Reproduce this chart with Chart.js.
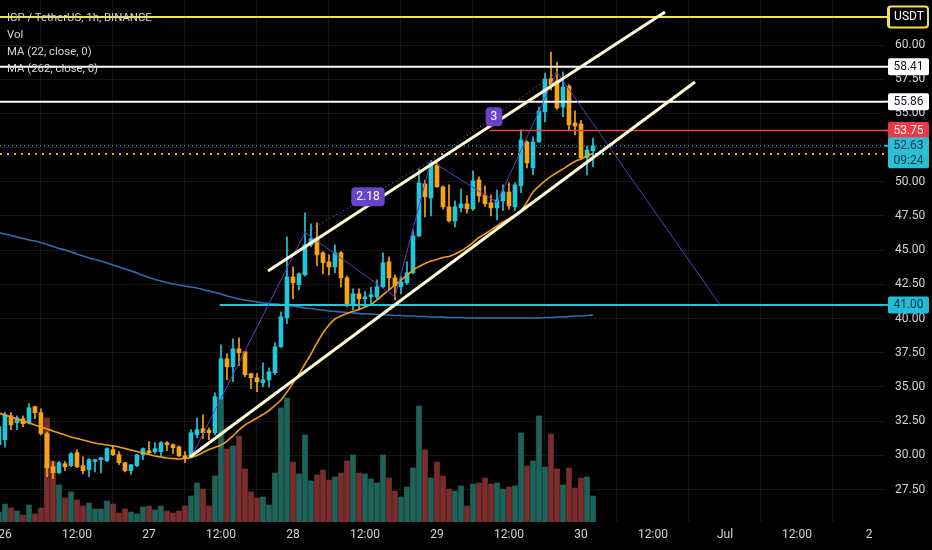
<!DOCTYPE html>
<html><head><meta charset="utf-8">
<script src="https://cdn.jsdelivr.net/npm/chart.js@4.4.1/dist/chart.umd.min.js"></script>
<style>
html,body{margin:0;padding:0;background:#000;}
#wrap{position:relative;width:932px;height:550px;background:#000;}
#legend{position:absolute;left:7px;top:9px;font:11.4px Roboto,sans-serif;color:#d1d4dc;line-height:17px;pointer-events:none;}
</style></head><body>
<div id="wrap"><canvas id="c" width="932" height="550"></canvas>
<div id="legend"><div>ICP / TetherUS, 1h, BINANCE</div><div>Vol</div><div>MA (22, close, 0)</div><div>MA (262, close, 0)</div></div>
</div>
<script>
// hours since 26 Jun 00:00 (1h candles)
const hours = [-1,0,1,2,3,4,5,6,7,8,9,10,11,12,13,14,15,16,17,18,19,20,21,22,23,24,25,26,27,28,29,30,31,32,33,34,35,36,37,38,39,40,41,42,43,44,45,46,47,48,49,50,51,52,53,54,55,56,57,58,59,60,61,62,63,64,65,66,67,68,69,70,71,72,73,74,75,76,77,78,79,80,81,82,83,84,85,86,87,88,89,90,91,92,93,94,95,96,97,98];
const openP = [30.78,31.15,32.90,32.39,32.68,32.39,33.56,33.12,31.59,29.17,28.74,29.39,29.25,30.20,29.25,28.96,29.56,29.69,29.61,30.42,30.05,29.47,28.88,29.25,30.05,30.34,30.27,30.27,30.93,30.78,30.63,29.98,29.90,31.51,31.95,31.84,31.66,34.14,37.06,36.48,37.79,37.57,35.97,35.68,35.31,35.53,36.04,37.94,40.06,43.05,42.47,43.20,45.39,45.90,44.81,44.15,43.78,44.81,42.98,41.08,41.81,41.45,41.59,41.59,42.32,44.15,42.98,42.32,42.61,43.35,46.05,49.85,48.82,51.23,49.63,48.17,47.14,48.09,48.39,48.02,50.14,49.04,48.46,48.09,48.60,49.26,48.17,49.70,52.91,51.02,52.91,55.11,57.52,57.37,55.47,57.00,54.30,54.23,51.75,52.26];
const highP = [32.30,33.17,33.12,32.90,32.90,33.78,33.60,33.40,31.70,29.54,29.54,29.54,30.20,30.40,29.90,29.76,29.72,29.85,30.56,30.71,30.27,29.50,29.32,30.05,30.56,31.00,30.93,31.00,31.00,30.85,30.70,30.27,31.88,32.75,32.97,32.00,34.58,38.09,37.43,38.52,38.60,37.60,36.00,36.00,36.77,36.40,38.23,40.50,45.97,43.78,43.35,47.73,46.92,47.00,44.90,44.66,45.39,44.90,43.10,42.18,42.18,42.00,42.30,42.83,44.80,44.51,43.20,43.05,44.15,46.49,50.94,50.10,51.53,51.38,49.70,49.77,48.60,49.48,49.00,50.80,50.36,49.70,49.04,49.40,49.77,49.92,49.92,53.79,53.00,53.28,55.47,57.95,59.49,58.76,58.03,57.10,55.18,54.50,52.62,53.20];
const lowP = [30.60,30.60,31.88,31.88,32.10,32.30,32.68,31.50,28.44,28.30,28.67,28.88,29.17,29.10,28.67,28.44,28.80,28.74,29.54,29.98,29.32,28.80,28.60,29.17,29.69,30.05,30.12,29.90,30.34,30.12,29.90,29.47,29.83,31.30,31.22,31.15,31.50,34.10,35.53,35.38,36.55,35.75,34.87,34.65,35.00,35.00,35.90,37.90,39.62,41.45,42.10,43.10,45.25,43.86,43.27,43.20,43.35,42.32,40.86,40.64,40.64,40.86,41.10,41.45,42.25,42.10,41.37,41.80,42.50,43.27,45.97,47.44,47.51,49.60,48.00,47.07,46.70,47.80,47.70,47.90,48.53,48.20,47.51,47.22,47.90,48.00,47.90,49.20,51.02,50.50,52.90,54.38,56.71,55.30,54.74,53.72,53.43,51.60,50.50,51.09];
const closeP = [32.10,32.97,32.24,32.75,32.32,33.48,33.12,31.59,29.10,28.74,29.47,29.17,30.12,29.17,28.88,29.69,29.69,29.83,30.49,30.05,29.47,28.88,29.32,30.05,30.49,30.20,30.49,30.93,30.78,30.56,29.98,29.83,31.66,31.88,31.66,31.66,34.29,37.06,36.48,37.79,37.50,35.90,35.68,35.38,35.53,36.11,37.94,40.13,43.05,42.61,43.27,45.39,45.83,44.66,44.08,43.78,44.81,42.98,41.08,41.81,41.45,41.59,41.74,42.32,44.08,42.98,42.40,42.69,43.35,46.05,49.92,48.90,51.38,49.63,48.17,47.14,48.17,48.39,48.02,50.07,48.97,48.39,48.09,48.68,49.26,48.24,49.77,53.06,51.38,52.91,55.18,57.52,57.08,55.40,56.93,54.16,54.08,51.75,52.33,52.63];
// volume (thousands, relative)
const volumeK = [10,18,14,11,7,17,8,14,104,61,37,24,30,22,16,19,13,13,21,18,9,13,10,8,15,16,12,16,11,9,11,16,26,39,33,16,46,123,73,76,86,53,30,24,25,17,49,114,124,60,48,87,41,47,52,42,45,49,61,67,49,48,43,39,67,44,31,25,35,54,116,72,44,60,46,33,31,36,16,38,39,44,38,39,33,35,36,89,56,61,106,55,88,53,37,54,34,44,45,26];
const ma22 = [33.10,32.95,32.81,32.66,32.51,32.37,32.22,32.08,31.93,31.78,31.64,31.49,31.35,31.24,31.13,31.02,30.91,30.83,30.76,30.69,30.61,30.50,30.39,30.29,30.18,30.07,29.96,29.88,29.81,29.77,29.74,29.77,29.85,29.99,30.21,30.43,30.58,30.76,31.05,31.42,31.86,32.22,32.48,32.73,32.99,33.28,33.65,34.05,34.63,35.29,35.95,36.68,37.41,38.22,38.95,39.53,39.97,40.19,40.37,40.52,40.67,40.85,41.03,41.36,41.73,42.09,42.46,42.82,43.15,43.55,43.81,44.03,44.21,44.32,44.47,44.54,44.72,44.94,45.23,45.56,45.93,46.18,46.48,46.77,47.06,47.32,47.57,47.90,48.52,49.25,49.69,50.06,50.39,50.68,50.94,51.23,51.48,51.67,51.89,52.07];
const ma262 = [46.26,46.18,46.07,45.96,45.86,45.75,45.67,45.56,45.42,45.27,45.13,45.02,44.87,44.72,44.58,44.43,44.32,44.21,44.06,43.92,43.77,43.63,43.48,43.33,43.15,43.00,42.86,42.75,42.64,42.53,42.46,42.38,42.31,42.24,42.13,42.02,41.91,41.80,41.65,41.54,41.43,41.36,41.29,41.21,41.14,41.10,41.07,41.03,40.96,40.92,40.85,40.77,40.74,40.67,40.63,40.56,40.52,40.48,40.45,40.41,40.37,40.34,40.34,40.30,40.26,40.26,40.23,40.23,40.19,40.19,40.15,40.15,40.12,40.12,40.12,40.08,40.08,40.08,40.04,40.04,40.04,40.04,40.04,40.04,40.04,40.04,40.04,40.04,40.04,40.04,40.04,40.08,40.08,40.12,40.12,40.15,40.19,40.19,40.23,40.26];
// tick labels
const xTickHours = [0,12,24,36,48,60,72,84,96,108,120,132,144];
const xTickLabels = ['26','12:00','27','12:00','28','12:00','29','12:00','30','12:00','Jul','12:00','2'];
const priceTicks = [27.5,30,32.5,35,37.5,40,42.5,45,47.5,50,52.5,55,57.5,60];
// drawings (hour, price)
const upperChannel = [[43.83,43.48],[110,62.41]];
const lowerChannel = [[30.83,29.88],[115,57.30]];
const zigzag = [[31,29.83],[50,46.3],[65,41.6],[71,51.52],[82,48.5],[92,58.0],[119.2,41.0]];
const ratioLine1 = [[50,46.3],[71,51.52]];
const ratioLine2 = [[71,51.52],[92,58.0]];
const yellowLevel = 62.05, whiteLevel1 = 58.41, whiteLevel2 = 55.86, redLevel = 53.75, cyanLevel = 41.00, lastPrice = 52.63, maLastLevel = 52.04;
const redStart = 80.8, cyanStart = 35.8;
const ratioLabels = [{h:60.5,p:48.91,text:'2.18'},{h:81.5,p:54.76,text:'3'}];
const countdown = '09:24';

const X_MIN = -0.83, X_MAX = 146.5;
const upC = '#26c6da', dnC = '#f7a21b';
const candleColors = hours.map((h,i)=> closeP[i] >= openP[i] ? upC : dnC);
const volColors = hours.map((h,i)=> closeP[i] >= openP[i] ? '#1f6259' : '#7a2d2d');

const pts = arr => arr.map(p => ({x:p[0], y:p[1]}));
const lineDs = (data, color, width, dash, order) => ({type:'line', data, borderColor:color, borderWidth:width, borderDash:dash||[], pointRadius:0, fill:false, tension:0, order, yAxisID:'y', xAxisID:'x'});

Chart.defaults.font.family = 'Roboto, sans-serif';

const overlay = {
  id:'overlay',
  afterDatasetsDraw(chart){
    const ctx = chart.ctx, x = chart.scales.x, y = chart.scales.y;
    ctx.save();
    ctx.font = '12px Roboto, sans-serif';
    ctx.textAlign = 'center'; ctx.textBaseline = 'middle';
    ratioLabels.forEach(m => {
      const px = x.getPixelForValue(m.h), py = y.getPixelForValue(m.p);
      const w = ctx.measureText(m.text).width + 10, h = 19;
      ctx.fillStyle = '#6a44c8';
      ctx.beginPath(); ctx.roundRect(px - w/2, py - h/2, w, h, 4); ctx.fill();
      ctx.fillStyle = '#ffffff';
      ctx.fillText(m.text, px, py + 0.5);
    });
    ctx.restore();
  },
  afterDraw(chart){
    const ctx = chart.ctx, y = chart.scales.y;
    const left = chart.chartArea.right + 4;
    ctx.save();
    ctx.font = '12px Roboto, sans-serif';
    ctx.textAlign = 'center'; ctx.textBaseline = 'middle';
    const uy = y.getPixelForValue(yellowLevel);
    ctx.fillStyle = '#f5e24a';
    ctx.fillRect(chart.chartArea.right, uy - 1, 5, 2);
    ctx.fillStyle = '#000';
    ctx.strokeStyle = '#f5e24a'; ctx.lineWidth = 2;
    ctx.beginPath(); ctx.roundRect(left, uy - 10.5, 40, 21, 3); ctx.fill(); ctx.stroke();
    ctx.fillStyle = '#f5e24a'; ctx.fillRect(left - 1, uy - 9, 3, 18);
    ctx.fillStyle = '#ffffff'; ctx.fillText('USDT', left + 21, uy + 0.5);
    const marks = [
      {p:whiteLevel1, bg:'#ffffff', fg:'#131722', t:[whiteLevel1.toFixed(2)]},
      {p:whiteLevel2, bg:'#ffffff', fg:'#131722', t:[whiteLevel2.toFixed(2)]},
      {p:redLevel, bg:'#f23645', fg:'#ffffff', t:[redLevel.toFixed(2)]},
      {p:lastPrice, bg:'#2bbfd4', fg:'#12304a', t:[lastPrice.toFixed(2), countdown]},
      {p:cyanLevel, bg:'#22bcd6', fg:'#12304a', t:[cyanLevel.toFixed(2)]}
    ];
    marks.forEach(m => {
      const py = y.getPixelForValue(m.p);
      const h = m.t.length === 1 ? 17 : 31;
      ctx.fillStyle = m.bg;
      ctx.beginPath(); ctx.roundRect(left, py - 8.5, 41, h, 2); ctx.fill();
      ctx.fillStyle = m.bg; ctx.fillRect(chart.chartArea.right, py - 1, 5, 2);
      ctx.fillStyle = m.fg;
      m.t.forEach((t, k) => ctx.fillText(t, left + 20.5, py + 0.5 + k*14.5));
    });
    ctx.restore();
  }
};

new Chart(document.getElementById('c'), {
  type:'bar',
  data:{datasets:[
    {type:'bar', label:'Vol', data: hours.map((h,i)=>({x:h, y:volumeK[i]})), backgroundColor: volColors, barThickness:5, grouped:false, yAxisID:'v', xAxisID:'x', order:20},
    Object.assign(lineDs(hours.map((h,i)=>({x:h, y:ma262[i]})), '#2f6db5', 1.6, [], 15), {tension:0.3}),
    {type:'bar', label:'wick', data: hours.map((h,i)=>({x:h, y:[lowP[i], highP[i]]})), backgroundColor: candleColors, barThickness:1, grouped:false, yAxisID:'y', xAxisID:'x', order:12},
    {type:'bar', label:'body', data: hours.map((h,i)=>({x:h, y:[openP[i], closeP[i]]})), backgroundColor: candleColors, barThickness:4, minBarLength:1, grouped:false, yAxisID:'y', xAxisID:'x', order:11},
    Object.assign(lineDs(hours.map((h,i)=>({x:h, y:ma22[i]})), '#f39c12', 1.6, [], 10), {tension:0.3}),
    lineDs(pts([[X_MIN,lastPrice],[X_MAX,lastPrice]]), '#26c6da', 1, [1,3], 9),
    lineDs(pts([[X_MIN,maLastLevel],[X_MAX,maLastLevel]]), '#f5a623', 2, [2,5], 9),
    lineDs(pts([[X_MIN,yellowLevel],[X_MAX,yellowLevel]]), '#f5e24a', 2, [], 8),
    lineDs(pts([[X_MIN,whiteLevel1],[X_MAX,whiteLevel1]]), '#ffffff', 2, [], 8),
    lineDs(pts([[X_MIN,whiteLevel2],[X_MAX,whiteLevel2]]), '#ffffff', 2, [], 8),
    lineDs(pts([[redStart,redLevel],[X_MAX,redLevel]]), '#e8433c', 1.5, [], 8),
    lineDs(pts([[cyanStart,cyanLevel],[X_MAX,cyanLevel]]), '#26c6da', 2, [], 8),
    lineDs(pts(zigzag), '#5a3fc0', 1, [], 6),
    lineDs(pts(ratioLine1), '#8c7fd8', 1, [1,3], 6),
    lineDs(pts(ratioLine2), '#8c7fd8', 1, [1,3], 6),
    lineDs(pts(upperChannel), '#fffbd6', 3, [], 5),
    lineDs(pts(lowerChannel), '#fffbd6', 3, [], 5)
  ]},
  options:{
    responsive:false, animation:false, events:[],
    layout:{padding:0},
    plugins:{legend:{display:false}, tooltip:{enabled:false}},
    scales:{
      x:{type:'linear', min:X_MIN, max:X_MAX, offset:false,
        grid:{color:'#161616', drawTicks:false}, border:{display:false},
        ticks:{color:'#d1d4dc', padding:6, maxRotation:0, autoSkip:false, font:{size:12},
          callback:(v)=>{const i = xTickHours.indexOf(v); return i >= 0 ? xTickLabels[i] : '';}},
        afterBuildTicks:s=>{s.ticks = xTickHours.map(v=>({value:v}));},
        afterFit:s=>{s.height = 28; s.paddingLeft = 0; s.paddingRight = 0;}
      },
      y:{position:'right', min:25.13, max:63.29,
        grid:{color:'#161616', drawTicks:false}, border:{display:false},
        ticks:{color:'#d1d4dc', padding:11, font:{size:12}, callback:v=>Number(v).toFixed(2)},
        afterBuildTicks:s=>{s.ticks = priceTicks.map(v=>({value:v}));},
        afterFit:s=>{s.width = 48; s.paddingTop = 0; s.paddingBottom = 0;}
      },
      v:{display:false, min:0, max:522}
    }
  },
  plugins:[overlay]
});
</script>
</body></html>
